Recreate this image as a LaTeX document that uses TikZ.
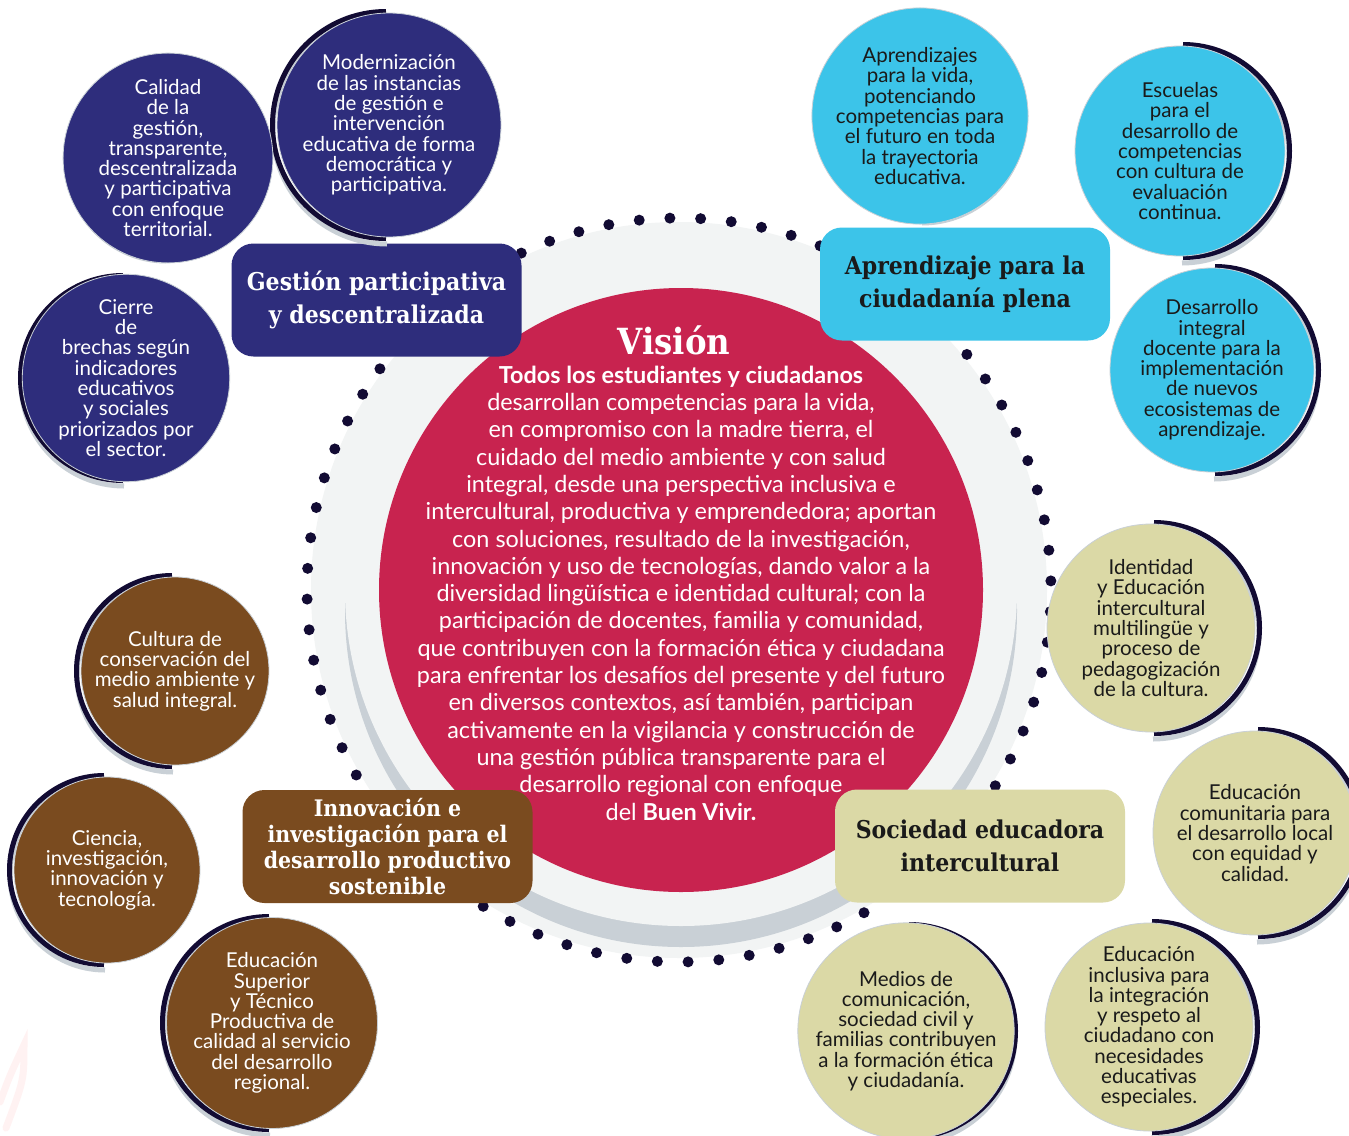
\documentclass[tikz,border=0pt]{standalone}
\usepackage{fontspec}
\setmainfont{Lato}
\newfontfamily\slabfont{DejaVu Serif Condensed}
\usetikzlibrary{positioning}
\definecolor{navy}{HTML}{2E2D7C}
\definecolor{sky}{HTML}{3CC4E9}
\definecolor{earth}{HTML}{7A4B1F}
\definecolor{sand}{HTML}{DBD9A6}
\definecolor{wine}{HTML}{C8234F}
\definecolor{ringlight}{HTML}{F2F4F4}
\definecolor{ringgray}{HTML}{C9D0D6}
\definecolor{inkdot}{HTML}{120B33}
\definecolor{ink}{HTML}{1A1A1A}
\tikzset{circ/.style = {fill = inkdot, circle, inner sep = 0, minimum size = 11pt}}
\tikzset{bubble/.style = {circle, inner sep = 0, align = center, draw = ringgray,
    line width = 0.8pt, font = \fontsize{20.5}{20.3}\selectfont}}
\tikzset{banner/.style = {rounded corners = 22pt, inner sep = 0, align = center,
    minimum width = 290pt, minimum height = 113pt,
    font = \slabfont\bfseries\fontsize{24.5}{33}\selectfont}}
\tikzset{halo/.style = {draw = inkdot, line width = 5pt},
  rim/.style = {draw = ringgray, line width = 5pt}}

\begin{document}
\begin{tikzpicture}[x=1pt, y=-1pt]
  \useasboundingbox (0,0) rectangle (1349,1135);
  \fill[white] (0,0) rectangle (1349,1135);
  % faint mark, lower left corner
  \draw[red!5, line width=7pt, line cap=round]
    (0,1102) .. controls (10,1075) .. (24,1045) .. controls (24,1080) .. (6,1128);
  % ring around the vision
  \coordinate (hub) at (679,590);
  \fill[ringlight] (hub) circle (368);
  \foreach \a in {0,...,75} {
    \node[circ] (d\a) at ([shift={({88.6+\a*4.7368}:372)}]hub) {};
  }
  \fill[ringgray] (681,611) circle (336);
  \fill[ringlight] (681,590) circle (336);
  \fill[wine] (681,590) circle (302);

  % the four axes
  \node[banner, fill=navy, text=white] (gestion) at (376.5,300)
    {Gestión participativa\\y descentralizada};
  \node[banner, fill=sky, text=ink] (aprendizaje) at (965,284)
    {Aprendizaje para la\\ciudadanía plena};
  \node[banner, fill=earth, text=white,
    font=\slabfont\bfseries\fontsize{22.8}{25.7}\selectfont] (innovacion) at (387.5,846.5)
    {Innovación e\\investigación para el\\desarrollo productivo\\sostenible};
  \node[banner, fill=sand, text=ink] (sociedad) at (980,846)
    {Sociedad educadora\\intercultural};

  % half rims behind the bubbles
  \foreach \cx/\cy/\r/\s in {168/158/96/-1, 389/125/112/-1, 126/378/101/-1,
      920/116/100/1, 1180/151/105/1, 1212/370/102/1, 1151/628/104/1,
      1255/833/102/1, 1149/1027/104/1, 906/1031/105/1,
      175/671/94/-1, 107/870/93/-1, 272/1023/105/-1} {
    \draw[rim] (\cx+2*\s,\cy+5-\r-2) arc[start angle={90-180*\s}, end angle=90, radius=\r+2];
    \draw[halo] (\cx+3*\s,\cy-\r-1.5) arc[start angle={90-180*\s}, end angle=90, radius=\r+1.5];
  }

  % bubbles
  \node[bubble, fill=navy, text=white, minimum size=192pt] (calidad) at (168,158)
    {Calidad\\de la\\gestión,\\transparente,\\descentralizada\\y participativa\\con enfoque\\territorial.};
  \node[bubble, fill=navy, text=white, minimum size=224pt] (moderna) at (389,125)
    {Modernización\\de las instancias\\de gestión e\\intervención\\educativa de forma\\democrática y\\participativa.};
  \node[bubble, fill=navy, text=white, minimum size=202pt] (brechas) at (126,378)
    {Cierre\\de\\brechas según\\indicadores\\educativos\\y sociales\\priorizados por\\el sector.};
  \node[bubble, fill=sky, text=ink, minimum size=200pt] (vida) at (920,116)
    {Aprendizajes\\para la vida,\\potenciando\\competencias para\\el futuro en toda\\la trayectoria\\educativa.};
  \node[bubble, fill=sky, text=ink, minimum size=210pt] (escuelas) at (1180,151)
    {Escuelas\\para el\\desarrollo de\\competencias\\con cultura de\\evaluación\\continua.};
  \node[bubble, fill=sky, text=ink, minimum size=204pt] (docente) at (1212,370)
    {Desarrollo\\integral\\docente para la\\implementación\\de nuevos\\ecosistemas de\\aprendizaje.};
  \node[bubble, fill=sand, text=ink, minimum size=208pt] (identidad) at (1151,628)
    {Identidad\\y Educación\\intercultural\\multilingüe y\\proceso de\\pedagogización\\de la cultura.};
  \node[bubble, fill=sand, text=ink, minimum size=204pt] (comunitaria) at (1255,833)
    {Educación\\comunitaria para\\el desarrollo local\\con equidad y\\calidad.};
  \node[bubble, fill=sand, text=ink, minimum size=208pt] (inclusiva) at (1149,1027)
    {Educación\\inclusiva para\\la integración\\y respeto al\\ciudadano con\\necesidades\\educativas\\especiales.};
  \node[bubble, fill=sand, text=ink, minimum size=210pt] (medios) at (906,1031)
    {Medios de\\comunicación,\\sociedad civil y\\familias contribuyen\\a la formación ética\\y ciudadanía.};
  \node[bubble, fill=earth, text=white, minimum size=188pt] (cultura) at (175,671)
    {Cultura de\\conservación del\\medio ambiente y\\salud integral.};
  \node[bubble, fill=earth, text=white, minimum size=186pt] (ciencia) at (107,870)
    {Ciencia,\\investigación,\\innovación y\\tecnología.};
  \node[bubble, fill=earth, text=white, minimum size=210pt] (superior) at (272,1023)
    {Educación\\Superior\\y Técnico\\Productiva de\\calidad al servicio\\del desarrollo\\regional.};

  % vision text
  \node[text=white, font=\slabfont\bfseries\fontsize{36}{40}\selectfont] (vision) at (674,340) {Visión};
  \node[align=center, text=white, font=\fontsize{23.4}{27.3}\selectfont] (vistext) at (681,593)
    {\textbf{Todos los estudiantes y ciudadanos}\\
     desarrollan competencias para la vida,\\
     en compromiso con la madre tierra, el\\
     cuidado del medio ambiente y con salud\\
     integral, desde una perspectiva inclusiva e\\
     intercultural, productiva y emprendedora; aportan\\
     con soluciones, resultado de la investigación,\\
     innovación y uso de tecnologías, dando valor a la\\
     diversidad lingüística e identidad cultural; con la\\
     participación de docentes, familia y comunidad,\\
     que contribuyen con la formación ética y ciudadana\\
     para enfrentar los desafíos del presente y del futuro\\
     en diversos contextos, así también, participan\\
     activamente en la vigilancia y construcción de\\
     una gestión pública transparente para el\\
     desarrollo regional con enfoque\\
     del \textbf{Buen Vivir.}};
\end{tikzpicture}
\end{document}
